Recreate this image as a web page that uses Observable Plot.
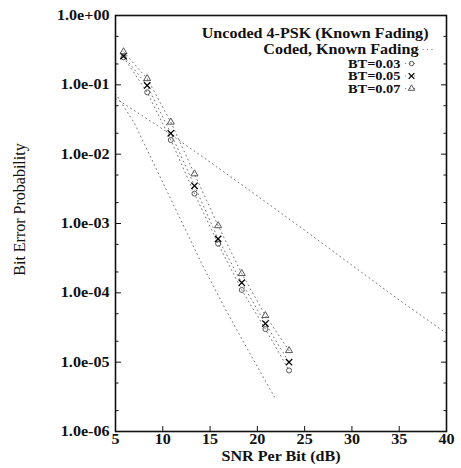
<!DOCTYPE html>
<html><head><meta charset="utf-8">
<script src="https://cdn.jsdelivr.net/npm/d3@7"></script>
<script src="https://cdn.jsdelivr.net/npm/@observablehq/plot@0.6"></script>
<style>
html,body{margin:0;padding:0;background:#fff}
#chart svg{display:block}
</style></head><body><div id="chart"></div>
<script>
// ---- data ----
const simSNR = [5.85, 8.35, 10.85, 13.35, 15.85, 18.35, 20.85, 23.35];
const bt003 = [0.25, 0.078, 0.016, 2.7e-3, 5.1e-4, 1.1e-4, 3.0e-5, 7.6e-6];
const bt005 = [0.26, 0.098, 0.020, 3.5e-3, 6.0e-4, 1.4e-4, 3.6e-5, 1.0e-5];
const bt007 = [0.30, 0.123, 0.029, 5.2e-3, 9.3e-4, 1.9e-4, 4.7e-5, 1.47e-5];
const uncodedSNR = [5, 10, 15, 20, 25, 30, 35, 40];
const uncodedBER = [0.064, 0.023, 0.0077, 0.0025, 8.0e-4, 2.5e-4, 7.9e-5, 2.6e-5];
const codedSNR = [5, 7, 9.4, 11.8, 14.2, 16.6, 19.0, 21.9];
const codedBER = [0.075, 0.028, 5.8e-3, 1.2e-3, 2.5e-4, 5.9e-5, 1.5e-5, 3.0e-6];
const seriesNames = ["BT=0.03", "BT=0.05", "BT=0.07"];
const seriesSymbols = ["circle", "times", "triangle"];
const legendTexts = ["Uncoded 4-PSK (Known Fading)", "Coded, Known Fading"];
const yTicks = [1, 1e-1, 1e-2, 1e-3, 1e-4, 1e-5, 1e-6];
const yTickLabels = ["1.0e+00", "1.0e-01", "1.0e-02", "1.0e-03", "1.0e-04", "1.0e-05", "1.0e-06"];
const yMinorTicks = yTicks.slice(1).flatMap(d => [2 * d, 5 * d]);
const xTicks = [5, 10, 15, 20, 25, 30, 35, 40];
const xLabel = "SNR Per Bit (dB)";
const yLabel = "Bit Error Probability";

// ---- tables ----
const simValues = [bt003, bt005, bt007];
const simRows = seriesNames.flatMap((s, k) => simSNR.map((x, i) => ({x, y: simValues[k][i], s})));
const uncodedRows = uncodedSNR.map((x, i) => ({x, y: uncodedBER[i]}));
const codedRows = codedSNR.map((x, i) => ({x, y: codedBER[i]}));

const FONT = "'Liberation Serif', 'Times New Roman', serif";
const INK = "#111";
const dotted = {stroke: "#777", strokeWidth: 1, strokeDasharray: "1 3.5"};
const lineSym = {draw(ctx, size) { const h = Math.sqrt(size) * 1.2; ctx.moveTo(-h, 0); ctx.lineTo(h, 0); }};
const markStyle = [
  {r: 2.5, stroke: "#444", strokeWidth: 0.9},
  {r: 3.0, stroke: "#000", strokeWidth: 1.3},
  {r: 2.6, stroke: "#444", strokeWidth: 0.9}
];
const bold = {fontSize: 14, fontWeight: "bold", fill: INK};
const boldSmall = {fontSize: 12.5, fontWeight: "bold", fill: INK};

const legendDy = [18, 34, 48, 60.5, 73];

const chart = Plot.plot({
  width: 461, height: 468,
  marginLeft: 115, marginRight: 15, marginTop: 15, marginBottom: 37,
  style: {background: "#fff", fontFamily: FONT, color: INK},
  x: {type: "linear", domain: [5, 40], axis: null},
  y: {type: "log", domain: [1e-6, 1], axis: null},
  marks: [
    // data
    Plot.line(uncodedRows, {x: "x", y: "y", ...dotted}),
    Plot.line(codedRows, {x: "x", y: "y", ...dotted}),
    Plot.line(simRows, {x: "x", y: "y", z: "s", ...dotted}),
    ...seriesNames.map((s, k) => Plot.dot(simRows.filter(d => d.s === s), {
      x: "x", y: "y", symbol: seriesSymbols[k], fill: "none", ...markStyle[k]
    })),
    // axes: labels
    Plot.axisY(yTicks, {anchor: "left", tickSize: 0, tickPadding: 6, label: null,
      tickFormat: d => yTickLabels[yTicks.indexOf(d)], ...bold}),
    Plot.axisX(xTicks, {anchor: "bottom", tickSize: 0, tickPadding: 3, tickFormat: d => String(d),
      label: null, ...bold}),
    // inward ticks
    Plot.axisY(yTicks, {anchor: "left", tickSize: -6, text: null, label: null, stroke: INK}),
    Plot.axisY(yTicks, {anchor: "right", tickSize: -6, text: null, label: null, stroke: INK}),
    Plot.axisY(yMinorTicks, {anchor: "left", tickSize: -3.5, text: null, label: null, stroke: INK}),
    Plot.axisY(yMinorTicks, {anchor: "right", tickSize: -3.5, text: null, label: null, stroke: INK}),
    Plot.axisX(xTicks, {anchor: "bottom", tickSize: -5, text: null, label: null, stroke: INK}),
    Plot.frame({stroke: INK, strokeWidth: 1.6}),
    // axis titles
    Plot.text([xLabel], {frameAnchor: "bottom", dy: 25, lineAnchor: "middle", textAnchor: "middle", text: d => d, ...bold}),
    Plot.text([yLabel], {frameAnchor: "left", dx: -96, dy: -14, rotate: -90, lineAnchor: "middle", textAnchor: "middle", text: d => d, fontSize: 16, fill: INK}),
    // legend
    Plot.text([legendTexts[0]], {frameAnchor: "top-right", dx: -18, dy: legendDy[0], lineAnchor: "middle", textAnchor: "end", text: d => d, ...bold}),
    Plot.text([legendTexts[1]], {frameAnchor: "top-right", dx: -28, dy: legendDy[1], lineAnchor: "middle", textAnchor: "end", text: d => d, ...bold}),
    Plot.dot([legendTexts[1]], {frameAnchor: "top-right", dx: -21, dy: legendDy[1], symbol: lineSym, r: 3.5, ...dotted}),
    ...seriesNames.map((s, k) => Plot.text([s], {frameAnchor: "top-right", dx: -46, dy: legendDy[2 + k], lineAnchor: "middle", textAnchor: "end", text: d => d, ...boldSmall})),
    ...seriesNames.map((s, k) => Plot.dot([s], {frameAnchor: "top-right", dx: -35, dy: legendDy[2 + k], symbol: lineSym, r: 3, ...dotted})),
    ...seriesNames.map((s, k) => Plot.dot([s], {frameAnchor: "top-right", dx: -35, dy: legendDy[2 + k], symbol: seriesSymbols[k], fill: "none", ...markStyle[k], r: markStyle[k].r * 0.9}))
  ]
});
document.getElementById("chart").append(chart);
// widen the bold serif lettering slightly, as in the scanned original
const STRETCH = 1.15;
chart.querySelectorAll("text").forEach(t => {
  if (t.textContent === yLabel) return;
  const w = t.getComputedTextLength();
  if (w > 0) { t.setAttribute("textLength", (w * STRETCH).toFixed(1)); t.setAttribute("lengthAdjust", "spacingAndGlyphs"); }
});
</script></body></html>
